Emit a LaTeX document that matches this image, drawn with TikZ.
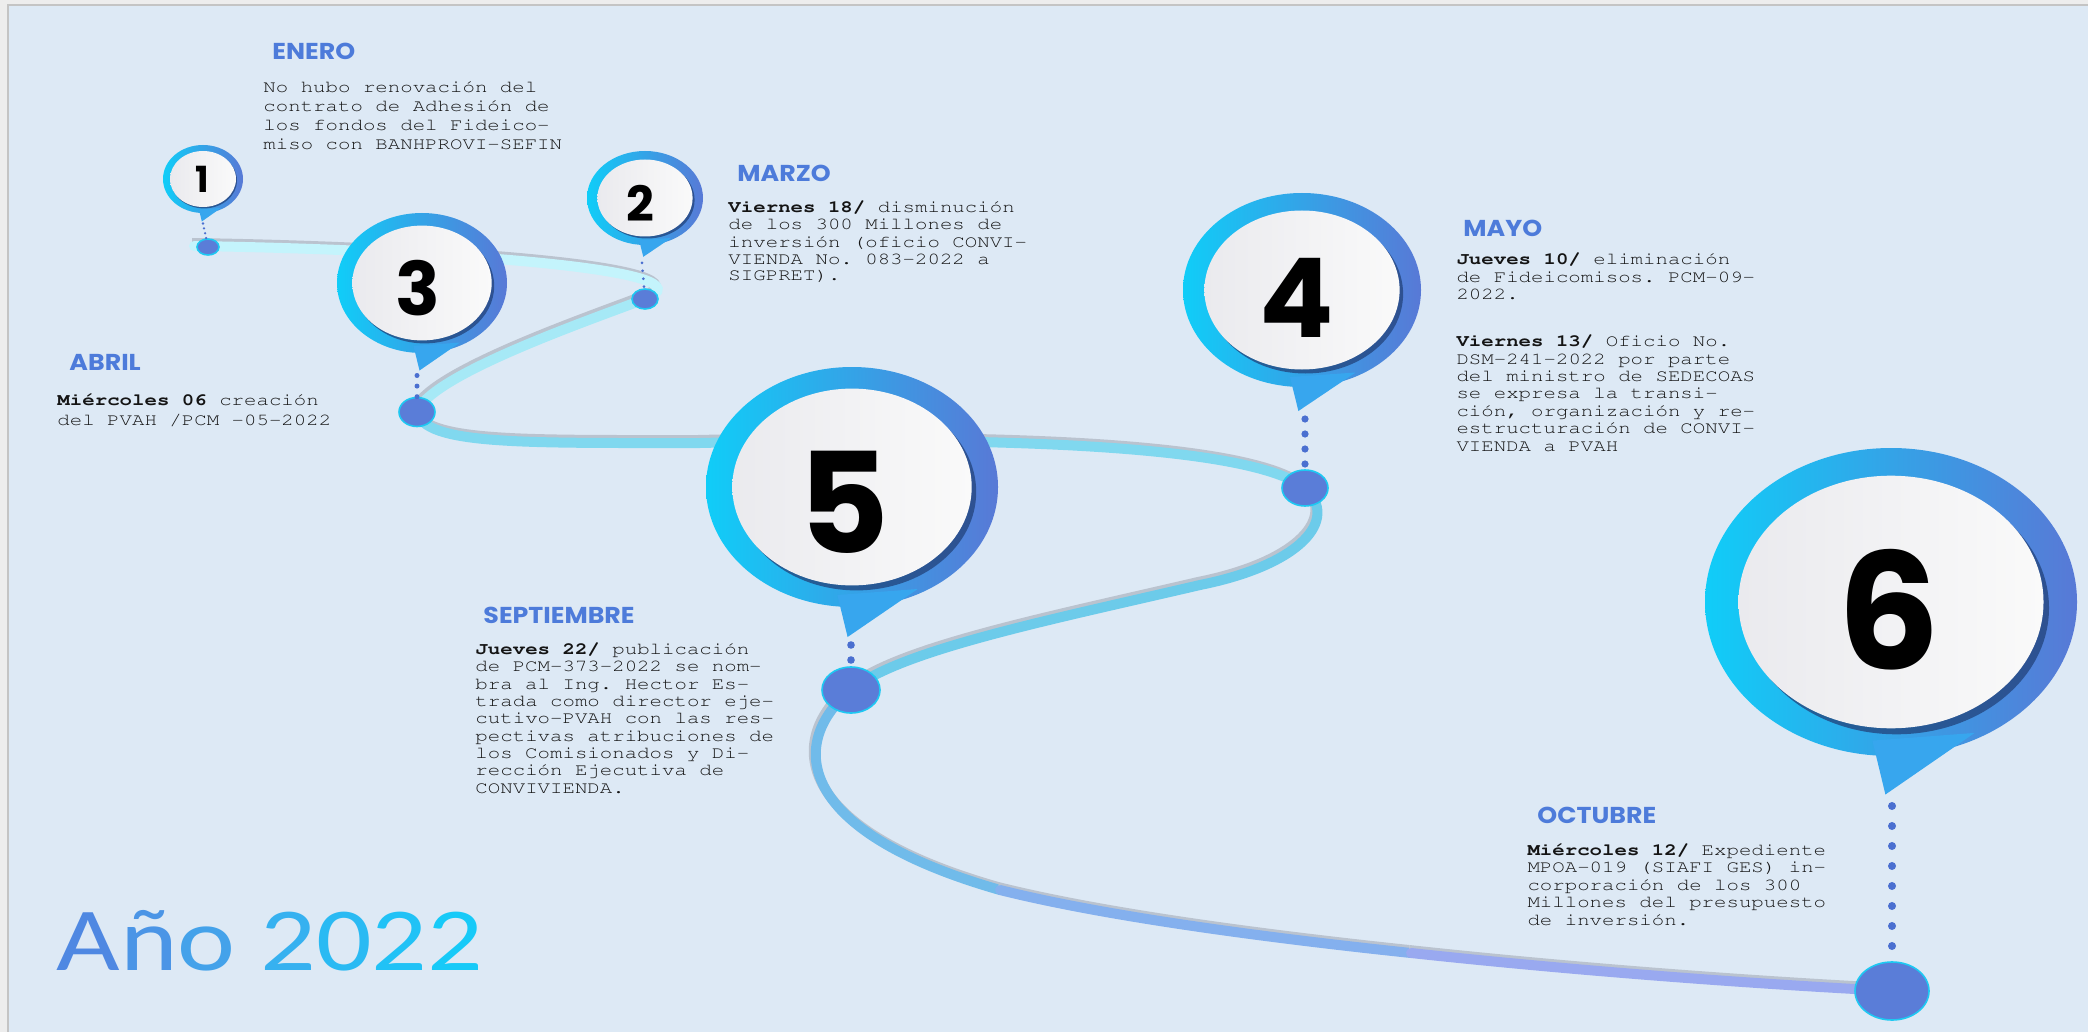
\documentclass[tikz,border=0pt]{standalone}
\usepackage[T1]{fontenc}
\usepackage{fontspec}
\usepackage{tikz}
\usetikzlibrary{shapes.geometric}

\newfontfamily\headfont{Poppins}
\newfontfamily\yearfont{Carlito}
\newcommand{\notefont}{\fontencoding{T1}\fontfamily{pcr}\selectfont\frenchspacing}

\definecolor{bgcol}{HTML}{DDE9F5}
\definecolor{framecol}{HTML}{EDEDED}
\definecolor{framelinecol}{HTML}{C4C4C4}
\definecolor{monthcol}{HTML}{4D7BDA}
\definecolor{notecol}{HTML}{141414}
\definecolor{ringL}{HTML}{10CDF8}
\definecolor{ringR}{HTML}{5879D6}
\definecolor{ringM}{HTML}{37A6EE}
\definecolor{faceL}{HTML}{EAEAEE}
\definecolor{faceR}{HTML}{FAFAFA}
\definecolor{shadowcol}{HTML}{22427A}
\definecolor{stopFill}{HTML}{5A7DD8}
\definecolor{stopEdge}{HTML}{1EC8F2}
\definecolor{dotcol}{HTML}{4A6FD0}
\definecolor{roadShadow}{HTML}{BAC3CF}
\definecolor{roadA}{HTML}{C4F4FC}
\definecolor{roadB}{HTML}{A6E9F6}
\definecolor{roadC}{HTML}{80D8EF}
\definecolor{roadD}{HTML}{6CCBEA}
\definecolor{roadE}{HTML}{70BBEA}
\definecolor{roadF}{HTML}{84B0EE}
\definecolor{roadG}{HTML}{99A9F0}
\definecolor{yearA}{HTML}{4F88E2}
\definecolor{yearB}{HTML}{4B95E6}
\definecolor{yearC}{HTML}{44A2EA}
\definecolor{yearD}{HTML}{36B1F0}
\definecolor{yearE}{HTML}{2ABAF3}
\definecolor{yearF}{HTML}{21C2F6}
\definecolor{yearG}{HTML}{17CAF8}

\pgfdeclarelayer{back}
\pgfdeclarelayer{roadlayer}
\pgfsetlayers{back,roadlayer,main}

\tikzset{
  month/.style={anchor=base west, inner sep=0pt, xscale=1.1, text=monthcol,
    font=\headfont\bfseries\fontsize{11.5}{11.5}\selectfont},
  note/.style={anchor=base west, inner sep=0pt, xscale=1.22, align=left, text=notecol},
  ring/.style={left color=ringL, right color=ringR},
  ringtail/.style={fill=ringM},
  faceshadow/.style={fill=shadowcol, opacity=0.75},
  face/.style={left color=faceL, right color=faceR},
  num/.style={anchor=base, inner sep=0pt, text=black},
  stop/.style={ellipse, draw=stopEdge, line width=0.8pt, fill=stopFill, inner sep=0pt},
  dots/.style={draw=dotcol, line cap=round},
  road/.style={line width=5pt, line cap=round,
    preaction={draw=roadShadow, line width=5pt, transform canvas={xshift=-1pt,yshift=1.5pt}}},
}

\begin{document}
\begin{tikzpicture}[x=0.5pt,y=0.5pt,yscale=-1]
    \useasboundingbox (0,0) rectangle (2088,1032);

    %Background
    \begin{pgfonlayer}{back}
    \fill[framecol] (0,0) rectangle (2088,1032);
    \fill[bgcol] (8,5) rectangle (2088,1032);
    \draw[framelinecol, line width=1pt] (8,1032) -- (8,5) -- (2088,5);
    \end{pgfonlayer}

    %Shape: Pin 1
    \shade[ring] (203,179) ellipse [x radius=40, y radius=34];
    \fill[ringtail] (199,209.6) -- (221,207.9) -- (201.8,221.5) -- cycle;
    \fill[faceshadow] (204,180.4) ellipse [x radius=33, y radius=28];
    \shade[face] (203,179) ellipse [x radius=33, y radius=28];
    \node[num, font=\headfont\bfseries\fontsize{18}{18}\selectfont] (p1) at (202,193) {1};
    \coordinate (t1) at (203,221.5);

    %Shape: Pin 2
    \shade[ring] (645,198) ellipse [x radius=58, y radius=47];
    \fill[ringtail] (639.2,240.3) -- (671.1,238) -- (643.3,256.8) -- cycle;
    \fill[faceshadow] (647,200) ellipse [x radius=47.6, y radius=38.5];
    \shade[face] (645,198) ellipse [x radius=47.6, y radius=38.5];
    \node[num, font=\headfont\bfseries\fontsize{24.3}{24.3}\selectfont] (p2) at (640,222) {2};
    \coordinate (t2) at (643.3,256.8);

    %Shape: Pin 3
    \shade[ring] (422,283) ellipse [x radius=85, y radius=70];
    \fill[ringtail] (413.5,346) -- (460,342.5) -- (419.5,370.5) -- cycle;
    \fill[faceshadow] (424.5,286) ellipse [x radius=69.7, y radius=57.4];
    \shade[face] (422,283) ellipse [x radius=69.7, y radius=57.4];
    \node[num, font=\headfont\bfseries\fontsize{37}{37}\selectfont] (p3) at (418,315) {3};
    \coordinate (t3) at (419.5,370.5);

    %Shape: Pin 4
    \shade[ring] (1302,290) ellipse [x radius=119, y radius=97];
    \fill[ringtail] (1290,377) -- (1355.6,372.5) -- (1298.4,411) -- cycle;
    \fill[faceshadow] (1305.5,294) ellipse [x radius=97.6, y radius=79.5];
    \shade[face] (1302,290) ellipse [x radius=97.6, y radius=79.5];
    \node[num, font=\headfont\bfseries\fontsize{55}{55}\selectfont] (p4) at (1297,337) {4};
    \coordinate (t4) at (1298.4,411);

    %Shape: Pin 5
    \shade[ring] (852,487) ellipse [x radius=146, y radius=120];
    \fill[ringtail] (837.4,595) -- (917.7,589) -- (847.6,637) -- cycle;
    \fill[faceshadow] (856.5,492) ellipse [x radius=119.7, y radius=98.4];
    \shade[face] (852,487) ellipse [x radius=119.7, y radius=98.4];
    \node[num, font=\headfont\bfseries\fontsize{70}{70}\selectfont] (p5) at (844,553) {5};
    \coordinate (t5) at (847.6,637);

    %Shape: Pin 6
    \shade[ring] (1891,602) ellipse [x radius=186, y radius=154];
    \fill[ringtail] (1872.4,740.6) -- (1974.7,732.9) -- (1885.4,794.5) -- cycle;
    \fill[faceshadow] (1896.5,608) ellipse [x radius=152.5, y radius=126.3];
    \shade[face] (1891,602) ellipse [x radius=152.5, y radius=126.3];
    \node[num, font=\headfont\bfseries\fontsize{80.7}{80.7}\selectfont] (p6) at (1889,669) {6};
    \coordinate (t6) at (1885.4,794.5);

    %Stops
    \node[stop, minimum width=11pt, minimum height=8pt] (n1) at (208,247) {};
    \node[stop, minimum width=13pt, minimum height=10pt] (n2) at (645,299) {};
    \node[stop, minimum width=18pt, minimum height=14.5pt] (n3) at (417,412) {};
    \node[stop, minimum width=23pt, minimum height=18pt] (n4) at (1305,488) {};
    \node[stop, minimum width=29pt, minimum height=23pt] (n5) at (851,690) {};
    \node[stop, minimum width=37pt, minimum height=29pt] (n6) at (1892,991) {};

    %Dotted Lines
    \draw[dots, line width=1.3pt, dash pattern=on 0pt off 2.5pt] (t1) ++(0,2) -- (n1);
    \draw[dots, line width=1.5pt, dash pattern=on 0pt off 4pt] (n2 |- t2) ++(-3,6) -- (n2);
    \draw[dots, line width=2.5pt, dash pattern=on 0pt off 5.3pt] (n3 |- t3) ++(0,5) -- (n3);
    \draw[dots, line width=3.6pt, dash pattern=on 0pt off 7.5pt] (n4 |- t4) ++(0,8) -- (n4);
    \draw[dots, line width=3.8pt, dash pattern=on 0pt off 7.5pt] (n5 |- t5) ++(0,8) -- (n5);
    \draw[dots, line width=4pt, dash pattern=on 0pt off 10pt] (n6 |- t6) ++(0,11.5) -- (n6);

    %Road
    \coordinate (k1) at (700,443);
    \coordinate (k2) at (1200,585);
    \coordinate (k3) at (1000,890);
    \coordinate (k4) at (1411,953);
    \begin{pgfonlayer}{roadlayer}
    \draw[road, roadA] (n1.center) ++(-14,-1) .. controls (450,250) and (720,270) .. (n2.center);
    \draw[road, roadB] (n2.center) .. controls (590,320) and (430,375) .. (n3.center);
    \draw[road, roadC] (n3.center) .. controls (425,445) and (520,443) .. (k1)
        .. controls (1000,436) and (1250,445) .. (n4.center);
    \draw[road, roadD] (n4.center) .. controls (1340,520) and (1300,565) .. (k2)
        .. controls (1050,620) and (900,650) .. (n5.center);
    \draw[road, roadE] (n5.center) .. controls (790,740) and (790,830) .. (k3);
    \draw[road, roadF] (k3) .. controls (1100,915) and (1250,936) .. (k4);
    \draw[road, roadG] (k4) .. controls (1573,970.5) and (1745.5,983.5) .. (n6.center);
    \end{pgfonlayer}

    % Text Node
    \node[month] (enero) at (272,60) {ENERO};
    \node[note, font=\notefont\fontsize{8.5}{9.5}\selectfont] (enerotxt) at (263,149.5)
      {No hubo renovación del\\contrato de Adhesión de\\los fondos del Fideico-\\miso con BANHPROVI-SEFIN};
    % Text Node
    \node[month] (marzo) at (737,182) {MARZO};
    \node[note, font=\notefont\fontsize{8.5}{8.5}\selectfont] (marzotxt) at (728,281)
      {\textbf{Viernes 18/} disminución\\de los 300 Millones de\\inversión (oficio CONVI-\\VIENDA No. 083-2022 a\\SIGPRET).};
    % Text Node
    \node[month] (abril) at (69,370) {ABRIL};
    \node[note, font=\notefont\fontsize{8.5}{10}\selectfont] (abriltxt) at (57,425)
      {\textbf{Miércoles 06} creación\\del PVAH /PCM -05-2022};
    % Text Node
    \node[month] (mayo) at (1463,237) {MAYO};
    \node[note, font=\notefont\fontsize{8.5}{8.7}\selectfont] (mayotxt) at (1456,451)
      {\textbf{Jueves 10/} eliminación\\de Fideicomisos. PCM-09-\\2022.\\[14.8pt]
       \textbf{Viernes 13/} Oficio No.\\DSM-241-2022 por parte\\del ministro de SEDECOAS\\se expresa la transi-\\ción, organización y re-\\estructuración de CONVI-\\VIENDA a PVAH};
    % Text Node
    \node[month] (sept) at (483,623) {SEPTIEMBRE};
    \node[note, font=\notefont\fontsize{8.5}{8.65}\selectfont] (septtxt) at (475,793)
      {\textbf{Jueves 22/} publicación\\de PCM-373-2022 se nom-\\bra al Ing. Hector Es-\\trada como director eje-\\cutivo-PVAH con las res-\\pectivas atribuciones de\\los Comisionados y Di-\\rección Ejecutiva de\\CONVIVIENDA.};
    % Text Node
    \node[month] (oct) at (1537,823) {OCTUBRE};
    \node[note, font=\notefont\fontsize{8.5}{8.75}\selectfont] (octtxt) at (1527,925)
      {\textbf{Miércoles 12/} Expediente\\MPOA-019 (SIAFI GES) in-\\corporación de los 300\\Millones del presupuesto\\de inversión.};

    % Text Node
    \node[anchor=base west, inner sep=0pt, xscale=1.22, font=\yearfont\fontsize{45}{45}\selectfont] (year) at (56,970)
      {\textcolor{yearA}{A}\textcolor{yearB}{ñ}\textcolor{yearC}{o} \textcolor{yearD}{2}\textcolor{yearE}{0}\textcolor{yearF}{2}\textcolor{yearG}{2}};

\end{tikzpicture}
\end{document}
